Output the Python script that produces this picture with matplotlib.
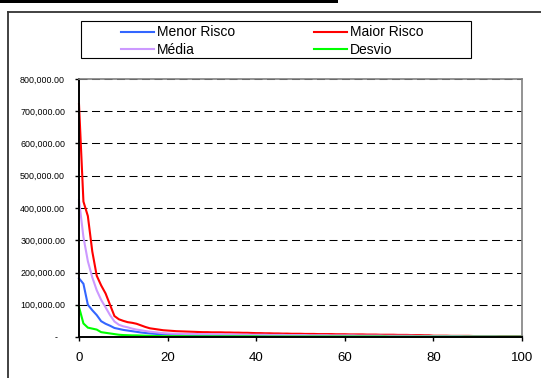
import matplotlib
matplotlib.use("Agg")
import matplotlib.pyplot as plt
from matplotlib.lines import Line2D
from matplotlib.patches import Rectangle
from matplotlib.ticker import FuncFormatter
import numpy as np

plt.rcParams['font.family'] = ['Liberation Sans', 'DejaVu Sans']

# values per step, in thousands
menor_risco = [
    182, 165, 100, 83, 68, 49, 41, 35, 28, 25,
    22, 20, 18, 16, 14, 12.5, 11, 10, 9, 8.5,
    7.5, 7, 6.5, 6.5, 6, 6, 5.5, 5.5, 5.5, 5,
    5, 5, 5, 4.5, 4.5, 4.5, 4.5, 4, 4, 4,
    4, 4, 4, 3.5, 3.5, 3.5, 3.5, 3.5, 3.5, 3.5,
    3.5, 3, 3, 3, 3, 3, 3, 3, 3, 3,
    3, 3, 3, 3, 2.5, 2.5, 2.5, 2.5, 2.5, 2.5,
    2.5, 2.5, 2.5, 2.5, 2.5, 2.5, 2, 2, 2, 2,
    2, 2, 2, 2, 2, 2, 2, 2, 2, 2,
    1.5, 1.5, 1.5, 1.5, 1.5, 1.5, 1.5, 1.5, 1.5, 1.5, 1.5,
]
maior_risco = [
    722, 420, 375, 265, 190, 160, 135, 100, 65, 55,
    50, 46, 44, 41, 36, 31, 27, 25, 23, 21,
    20, 19, 18, 17.5, 17, 16.5, 16, 15.5, 15, 15,
    14.5, 14.5, 14.5, 14, 14, 13.5, 13.5, 13, 13, 12.5,
    12, 12, 11.5, 11.5, 11, 11, 10.5, 10.5, 10, 10,
    10, 9.5, 9.5, 9.5, 9, 9, 9, 9, 8.5, 8.5,
    8.5, 8, 8, 8, 8, 7.5, 7.5, 7.5, 7, 7,
    7, 7, 6.5, 6.5, 6.5, 6, 6, 6, 5.5, 5.5,
    4, 4, 4, 4, 3.5, 3.5, 3.5, 3.5, 3.5, 3,
    3, 3, 3, 3, 3, 2.5, 2.5, 2.5, 2.5, 2.5, 2.5,
]
media = [
    425, 310, 235, 185, 145, 115, 92, 68, 48, 38,
    33, 30, 26, 23, 21, 18.5, 16.5, 15, 13.5, 12,
    11, 10.5, 10, 10, 9.5, 9.5, 9.5, 9, 9, 9,
    8.5, 8.5, 8.5, 8, 8, 8, 7.5, 7.5, 7.5, 7,
    7, 7, 7, 6.5, 6.5, 6.5, 6.5, 6, 6, 6,
    6, 6, 5.5, 5.5, 5.5, 5.5, 5.5, 5, 5, 5,
    5, 5, 5, 4.5, 4.5, 4.5, 4.5, 4.5, 4.5, 4,
    4, 4, 4, 4, 4, 4, 3.5, 3.5, 3.5, 3.5,
    3, 3, 3, 3, 3, 3, 3, 2.5, 2.5, 2.5,
    2.5, 2.5, 2.5, 2.5, 2.5, 2, 2, 2, 2, 2, 2,
]
desvio = [
    93, 42, 29, 26, 23, 15, 13, 11, 9, 7,
    6, 5.5, 5, 5, 4.5, 4, 3.5, 3, 3, 2.5,
    2.5, 2.5, 2.5, 2.5, 2.5, 2, 2, 2, 2, 2,
    2, 2, 2, 2, 2, 2, 2, 2, 2, 2,
    2, 1.5, 1.5, 1.5, 1.5, 1.5, 1.5, 1.5, 1.5, 1.5,
    1.5, 1.5, 1.5, 1.5, 1.5, 1.5, 1.5, 1.5, 1.5, 1.5,
    1.5, 1.5, 1.5, 1.5, 1.5, 1.5, 1.5, 1.5, 1.5, 1.5,
    1, 1, 1, 1, 1, 1, 1, 1, 1, 1,
    1, 1, 1, 1, 1, 1, 1, 1, 1, 1,
    1, 1, 1, 1, 1, 1, 1, 1, 1, 1, 1,
]
labels = ['Menor Risco', 'Maior Risco', 'Média', 'Desvio']
colors = ['#3366FF', '#FF0000', '#CC99FF', '#00FF00']

W, H = 541, 378
fig = plt.figure(figsize=(W / 100, H / 100), dpi=100)
ax = fig.add_axes([79 / W, 1 - 337 / H, (522 - 79) / W, (337 - 79) / H])

x = np.arange(len(menor_risco))
series = [menor_risco, maior_risco, media, desvio]
for vals, lab, col in zip(series, labels, colors):
    ax.plot(x, np.array(vals) * 1000, color=col, lw=1.5, label=lab,
            solid_joinstyle='miter', clip_on=False)

ax.set_xlim(0, 100)
ax.set_ylim(0, 800000)
ax.set_xticks(range(0, 101, 20))
ax.set_yticks(range(0, 800001, 100000))


def money(v, pos):
    if v == 0:
        return '-   '
    return '{:,.2f}'.format(v)


ax.yaxis.set_major_formatter(FuncFormatter(money))
ax.tick_params(axis='y', labelsize=6.4, length=3, width=1, pad=7, direction='out')
ax.tick_params(axis='x', labelsize=9.5, length=3, width=1, pad=8, direction='out')

ax.yaxis.grid(True, color='black', lw=0.75, linestyle=(0, (7.7, 4.3)))
ax.set_axisbelow(True)
for side in ['left', 'bottom']:
    ax.spines[side].set_color('black')
    ax.spines[side].set_linewidth(1.4)
for side in ['top', 'right']:
    ax.spines[side].set_color('#808080')
    ax.spines[side].set_linewidth(1.2)

# legend box and entries
fig.add_artist(Rectangle((80.7 / W, 1 - 58.3 / H), 390 / W, 37.6 / H,
                         transform=fig.transFigure, fill=False,
                         edgecolor='black', lw=0.8))
handles = [Line2D([], [], color=c, lw=1.5) for c in colors]
order = [0, 2, 1, 3]
fig.legend([handles[i] for i in order], [labels[i] for i in order],
           ncol=2, loc='upper left', bbox_to_anchor=(120.7 / W, 1 - 25.5 / H),
           frameon=False, fontsize=10, borderpad=0, borderaxespad=0,
           handlelength=2.4, handletextpad=0.2, labelspacing=0.25,
           columnspacing=5.7)

# outer chart border and the heading rule above it
fig.add_artist(Line2D([8 / W, 1], [1 - 11.5 / H, 1 - 11.5 / H],
                      transform=fig.transFigure, color='#333333', lw=1.3))
fig.add_artist(Line2D([8 / W, 8 / W], [0, 1 - 11.5 / H],
                      transform=fig.transFigure, color='#333333', lw=1.3))
fig.add_artist(Rectangle((0, 1 - 2.6 / H), 338 / W, 2.6 / H,
                         transform=fig.transFigure, color='black', lw=0))

fig.savefig('out.png', dpi=100)
